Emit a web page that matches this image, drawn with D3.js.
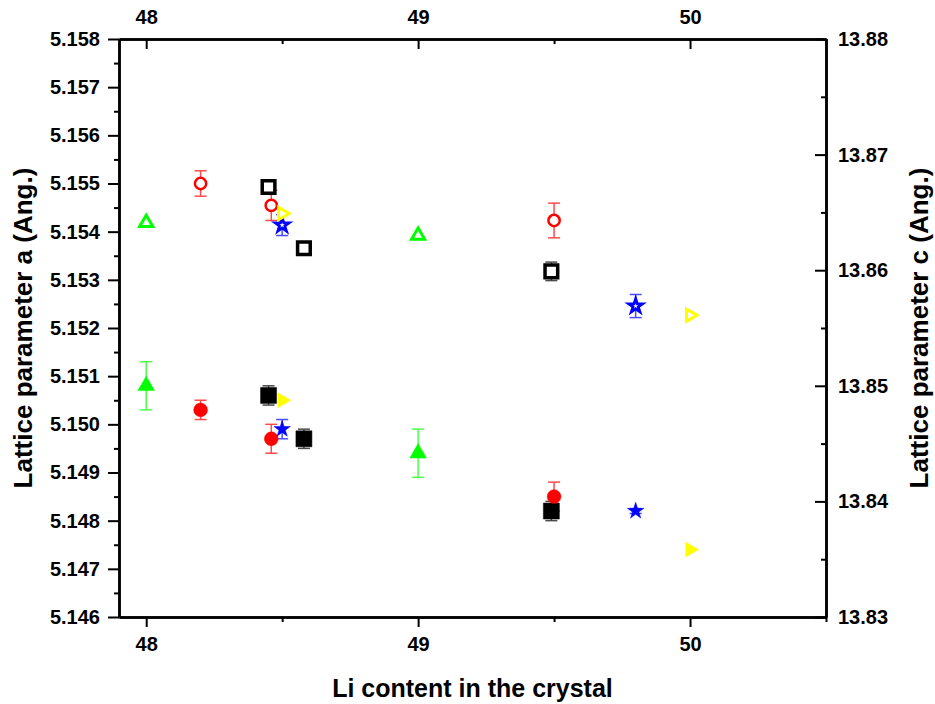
<!DOCTYPE html>
<html>
<head>
<meta charset="utf-8">
<script src="https://cdn.jsdelivr.net/npm/d3@7"></script>
<style>
  body { margin: 0; background: #fff; }
  text { font-family: "Liberation Sans", Arial, sans-serif; font-weight: bold; }
</style>
</head>
<body>
<script>
// x positions (Li content) and values
var sqX = [48.45, 48.58, 49.49];
var sqA = [5.1506, 5.1497, 5.1482];
var sqAErr = [0.0002, 0.0002, 0.0002];
var sqC = [13.8672, 13.8619, 13.8599];
var sqCErr = [0.0005, 0.0005, 0.0008];

var circX = [48.2, 48.46, 49.5];
var circA = [5.1503, 5.1497, 5.1485];
var circAErr = [0.0002, 0.0003, 0.0003];
var circC = [13.8675, 13.8656, 13.8643];
var circCErr = [0.0011, 0.0013, 0.0015];

var triX = [48.0, 49.0];
var triA = [5.1508, 5.1494];
var triAErr = [0.0005, 0.0005];
var triC = [13.8641, 13.8630];

var starX = [48.5, 49.8];
var starA = [5.1499, 5.1482];
var starAErr = [0.0002, 0.00005];
var starC = [13.8639, 13.8569];
var starCErr = [0.0009, 0.0010];

var rtriX = [48.5, 50.0];
var rtriA = [5.1505, 5.1474];
var rtriC = [13.8649, 13.8561];

var xTicks = [48, 49, 50];
var xMinor = [48.5, 49.5, 50.5];
var aTicks = [5.146, 5.147, 5.148, 5.149, 5.150, 5.151, 5.152, 5.153, 5.154, 5.155, 5.156, 5.157, 5.158];
var cTicks = [13.83, 13.84, 13.85, 13.86, 13.87, 13.88];

var W = 935, H = 704;
var margin = { left: 119, right: 826, top: 39, bottom: 617 };

var svg = d3.select("body").append("svg")
    .attr("width", W)
    .attr("height", H);

var x = d3.scaleLinear().domain([47.9, 50.5]).range([margin.left, margin.right]);
var yA = d3.scaleLinear().domain([5.146, 5.158]).range([margin.bottom, margin.top]);
var yC = d3.scaleLinear().domain([13.83, 13.88]).range([margin.bottom, margin.top]);

// minor ticks between the major ones
var aMinor = d3.range(0, 12).map(function(i) { return 5.1465 + i * 0.001; });
var cMinor = d3.range(0, 5).map(function(i) { return 13.835 + i * 0.01; });

function styleAxis(g) {
  g.attr("font-size", 20).attr("font-family", null);
  g.select(".domain").attr("stroke-width", 2.5);
  g.selectAll(".tick line").attr("stroke-width", 2);
  g.selectAll("text").attr("fill", "#000");
}

// left axis (a)
svg.append("g").attr("transform", "translate(" + margin.left + ",0)")
  .call(d3.axisLeft(yA).tickValues(aMinor).tickSize(5).tickSizeOuter(0).tickFormat(""))
  .call(styleAxis);
svg.append("g").attr("transform", "translate(" + margin.left + ",0)")
  .call(d3.axisLeft(yA).tickValues(aTicks).tickSize(11).tickSizeOuter(0).tickPadding(8).tickFormat(d3.format(".3f")))
  .call(styleAxis);

// right axis (c), ticks inside
svg.append("g").attr("transform", "translate(" + margin.right + ",0)")
  .call(d3.axisRight(yC).tickValues(cMinor).tickSize(-5).tickSizeOuter(0).tickFormat(""))
  .call(styleAxis);
svg.append("g").attr("transform", "translate(" + margin.right + ",0)")
  .call(d3.axisRight(yC).tickValues(cTicks).tickSize(-11).tickSizeOuter(0).tickPadding(12).tickFormat(d3.format(".2f")))
  .call(styleAxis);

// bottom axis
svg.append("g").attr("transform", "translate(0," + margin.bottom + ")")
  .call(d3.axisBottom(x).tickValues(xMinor).tickSize(5).tickSizeOuter(0).tickFormat(""))
  .call(styleAxis);
svg.append("g").attr("transform", "translate(0," + margin.bottom + ")")
  .call(d3.axisBottom(x).tickValues(xTicks).tickSize(10).tickSizeOuter(0).tickPadding(10).tickFormat(d3.format("d")))
  .call(styleAxis);

// top axis, ticks inside
svg.append("g").attr("transform", "translate(0," + margin.top + ")")
  .call(d3.axisTop(x).tickValues(xMinor).tickSize(-5).tickSizeOuter(0).tickFormat(""))
  .call(styleAxis);
svg.append("g").attr("transform", "translate(0," + margin.top + ")")
  .call(d3.axisTop(x).tickValues(xTicks).tickSize(-10).tickSizeOuter(0).tickPadding(15).tickFormat(d3.format("d")))
  .call(styleAxis);

// axis titles
var midY = (margin.top + margin.bottom) / 2;
svg.append("text")
  .attr("transform", "translate(32," + midY + ") rotate(-90)")
  .attr("text-anchor", "middle")
  .style("font-size", "26px")
  .text("Lattice parameter a (Ang.)");
svg.append("text")
  .attr("transform", "translate(928," + midY + ") rotate(-90)")
  .attr("text-anchor", "middle")
  .style("font-size", "26px")
  .text("Lattice parameter c (Ang.)");
svg.append("text")
  .attr("x", (margin.left + margin.right) / 2)
  .attr("y", 697)
  .attr("text-anchor", "middle")
  .style("font-size", "25px")
  .text("Li content in the crystal");

var plot = svg.append("g");

function errorBars(xs, ys, errs, yScale, color) {
  var d = xs.map(function(v, i) { return { x: v, y: ys[i], e: errs[i] }; });
  var g = plot.append("g").attr("stroke", color).attr("stroke-width", 1.5).attr("opacity", 0.7);
  g.selectAll("line.v").data(d).enter().append("line")
    .attr("x1", function(p) { return x(p.x); })
    .attr("x2", function(p) { return x(p.x); })
    .attr("y1", function(p) { return yScale(p.y - p.e); })
    .attr("y2", function(p) { return yScale(p.y + p.e); });
  [-1, 1].forEach(function(s) {
    g.selectAll(null).data(d).enter().append("line")
      .attr("x1", function(p) { return x(p.x) - 6; })
      .attr("x2", function(p) { return x(p.x) + 6; })
      .attr("y1", function(p) { return yScale(p.y + s * p.e); })
      .attr("y2", function(p) { return yScale(p.y + s * p.e); });
  });
}

function markers(xs, ys, yScale, type, size, rot, color, open, sw) {
  var d = xs.map(function(v, i) { return { x: v, y: ys[i] }; });
  plot.append("g").selectAll("path").data(d).enter().append("path")
    .attr("d", d3.symbol().type(type).size(size))
    .attr("transform", function(p) {
      return "translate(" + x(p.x) + "," + yScale(p.y) + ") rotate(" + rot + ")";
    })
    .attr("fill", open ? "#fff" : color)
    .attr("stroke", color)
    .attr("stroke-linejoin", "miter")
    .attr("stroke-width", open ? sw : 0.5);
}

// lattice parameter a (filled symbols, left axis)
errorBars(sqX, sqA, sqAErr, yA, "#000");
errorBars(circX, circA, circAErr, yA, "#ff0000");
errorBars(triX, triA, triAErr, yA, "#00ff00");
errorBars(starX, starA, starAErr, yA, "#0000ff");
markers(sqX, sqA, yA, d3.symbolSquare, 256, 0, "#000", false);
markers(circX, circA, yA, d3.symbolCircle, 150, 0, "#ff0000", false);
markers(triX, triA, yA, d3.symbolTriangle, 120, 0, "#00ff00", false);
markers(starX, starA, yA, d3.symbolStar, 85, 0, "#0000ff", false);
markers(rtriX, rtriA, yA, d3.symbolTriangle, 95, 90, "#ffff00", false);

// lattice parameter c (open symbols, right axis)
errorBars(sqX, sqC, sqCErr, yC, "#000");
errorBars(circX, circC, circCErr, yC, "#ff0000");
errorBars(starX, starC, starCErr, yC, "#0000ff");
markers(sqX, sqC, yC, d3.symbolSquare, 160, 0, "#000", true, 3.5);
markers(circX, circC, yC, d3.symbolCircle, 100, 0, "#ff0000", true, 2.5);
markers(triX, triC, yC, d3.symbolTriangle, 75, 0, "#00ff00", true, 3);
markers(starX, starC, yC, d3.symbolStar, 60, 0, "#0000ff", true, 2.8);
markers(rtriX, rtriC, yC, d3.symbolTriangle, 65, 90, "#ffff00", true, 3);
</script>
</body>
</html>
